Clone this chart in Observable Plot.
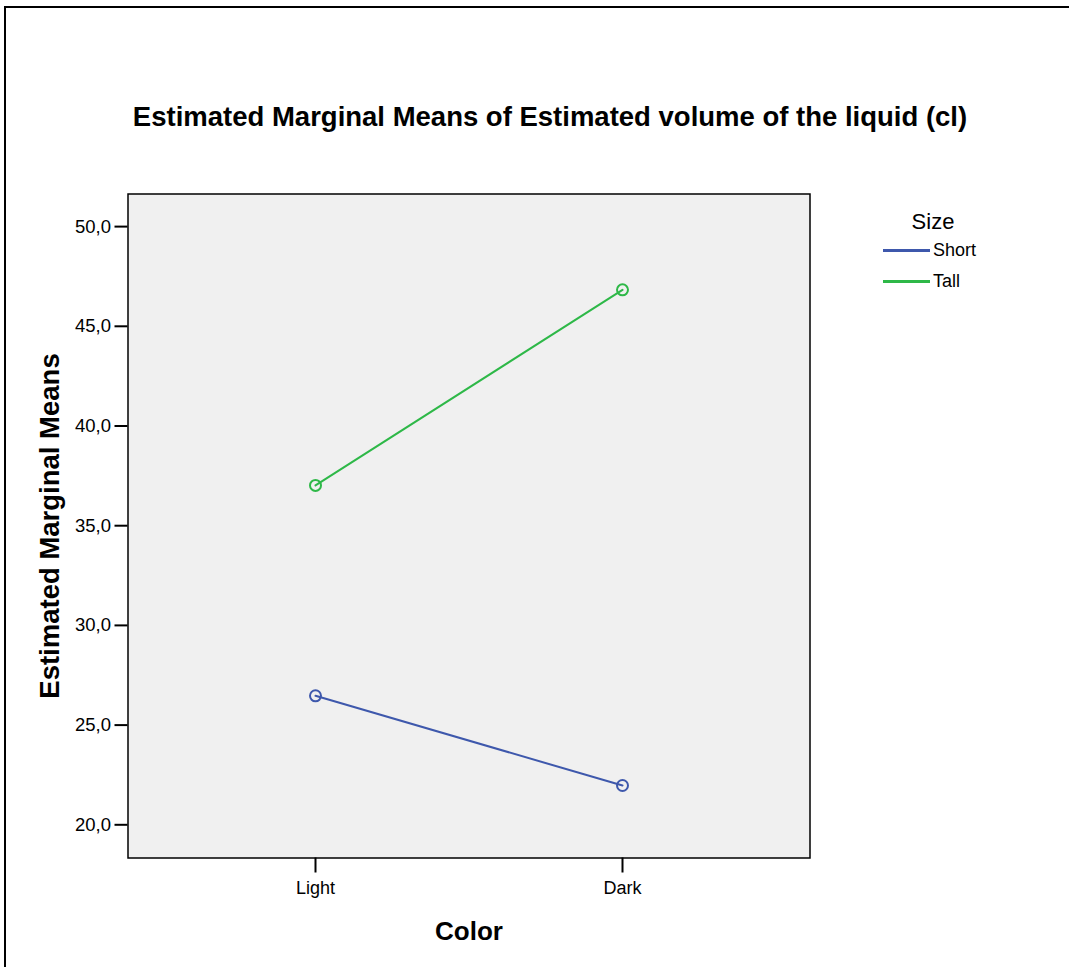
<!DOCTYPE html>
<html>
<head>
<meta charset="utf-8">
<script src="https://cdn.jsdelivr.net/npm/d3@7"></script>
<script src="https://cdn.jsdelivr.net/npm/@observablehq/plot@0.6"></script>
<style>
  html, body { margin: 0; padding: 0; background: #fff; overflow: hidden; }
  #wrap { position: relative; width: 1069px; height: 967px; overflow: hidden; font-family: "Liberation Sans", Arial, sans-serif; }
  #border { position: absolute; left: 4px; top: 6px; width: 1200px; height: 1200px; border-top: 2px solid #000; border-left: 2px solid #000; pointer-events: none; }
  #chart { position: absolute; left: 0; top: 0; }
  #legend { position: absolute; left: 883px; top: 209px; color: #000; }
  #legend .ttl { font-size: 22px; width: 100px; text-align: center; line-height: 26px; }
  #legend .row { display: flex; align-items: center; height: 31px; font-size: 18px; }
  #legend .sw { width: 47px; height: 2.5px; margin-right: 3px; }
</style>
</head>
<body>
<div id="wrap">
  <div id="chart"></div>
  <div id="legend"></div>
  <div id="border"></div>
</div>
<script>
// ---- data ----
const colorCategories = ["Light", "Dark"];
const sizeSeries = ["Short", "Tall"];
const shortMeans = [26.47, 21.97];
const tallMeans = [37.02, 46.83];
const seriesColors = ["#3E58AC", "#2EB848"];
const yTicks = [20, 25, 30, 35, 40, 45, 50];
const titleText = "Estimated Marginal Means of Estimated volume of the liquid (cl)";
const xLabel = "Color";
const yLabel = "Estimated Marginal Means";
const legendTitle = "Size";

const table = [];
colorCategories.forEach((c, i) => table.push({color: c, size: "Short", mean: shortMeans[i]}));
colorCategories.forEach((c, i) => table.push({color: c, size: "Tall", mean: tallMeans[i]}));

const fmt = d => d.toFixed(1).replace(".", ",");

const chart = Plot.plot({
  width: 1069,
  height: 967,
  marginLeft: 127.5,
  marginRight: 259.5,
  marginTop: 193.5,
  marginBottom: 109.5,
  style: {fontFamily: "'Liberation Sans', Arial, sans-serif", background: "transparent", color: "#000"},
  x: {type: "point", domain: colorCategories, padding: 0.6107},
  y: {domain: [18.335, 51.635]},
  color: {domain: sizeSeries, range: seriesColors},
  marks: [
    Plot.frame({fill: "#f0f0f0", stroke: "#000", strokeWidth: 1.5}),
    Plot.axisY({ticks: yTicks, tickFormat: fmt, tickSize: 13, tickPadding: 4, fontSize: 18.5, strokeWidth: 2, label: null}),
    Plot.axisX({tickSize: 15, tickPadding: 8, fontSize: 18, strokeWidth: 2, label: null}),
    Plot.line(table, {x: "color", y: "mean", z: "size", stroke: "size", strokeWidth: 2}),
    Plot.dot(table, {x: "color", y: "mean", stroke: "size", r: 5.5, strokeWidth: 2, fill: "none"}),
    Plot.text([titleText], {text: d => d, frameAnchor: "top", dx: 81, dy: -68.5, lineAnchor: "bottom", fontSize: 27.5, fontWeight: "bold", fill: "#000"}),
    Plot.text([xLabel], {text: d => d, frameAnchor: "bottom", dy: 82, lineAnchor: "bottom", fontSize: 26, fontWeight: "bold", fill: "#000"}),
    Plot.text([yLabel], {text: d => d, frameAnchor: "left", textAnchor: "middle", dx: -69, rotate: -90, lineAnchor: "bottom", fontSize: 27.5, fontWeight: "bold", fill: "#000"})
  ]
});
document.getElementById("chart").appendChild(chart);

// legend
const lg = document.getElementById("legend");
const t = document.createElement("div");
t.className = "ttl";
t.textContent = legendTitle;
lg.appendChild(t);
sizeSeries.forEach((s, i) => {
  const row = document.createElement("div");
  row.className = "row";
  const sw = document.createElement("span");
  sw.className = "sw";
  sw.style.background = seriesColors[i];
  const lab = document.createElement("span");
  lab.textContent = s;
  row.appendChild(sw);
  row.appendChild(lab);
  lg.appendChild(row);
});
</script>
</body>
</html>
